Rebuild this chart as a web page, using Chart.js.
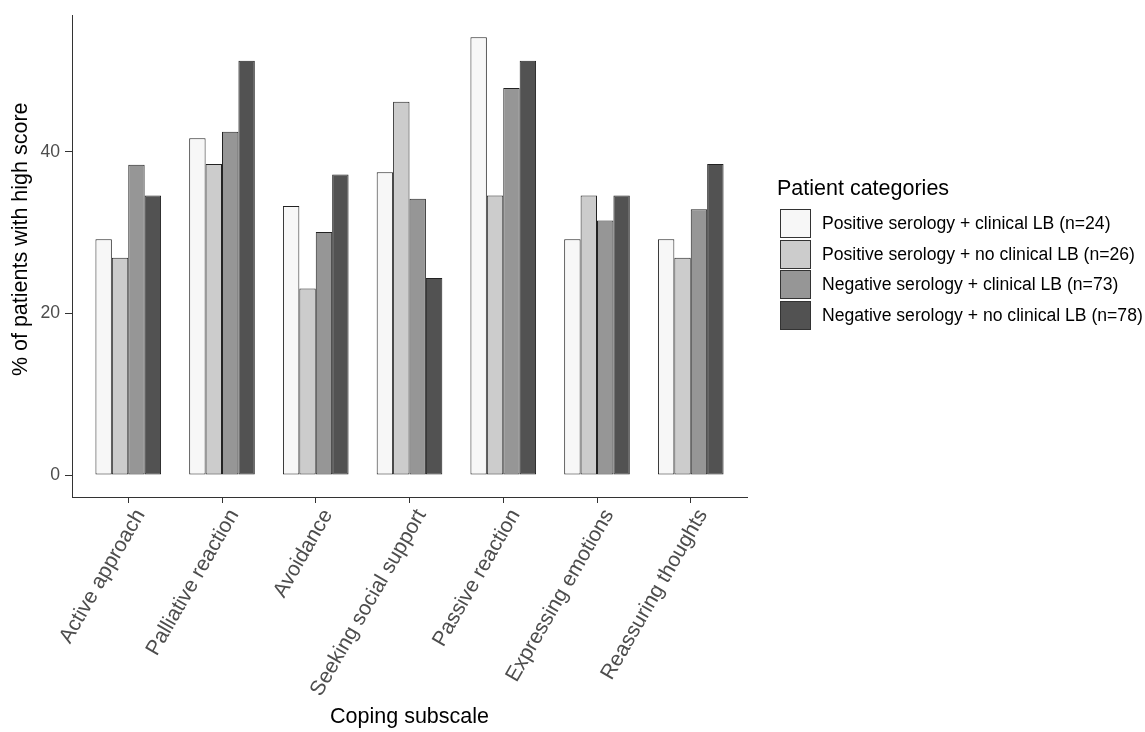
<!DOCTYPE html>
<html>
<head>
<meta charset="utf-8">
<script src="https://cdn.jsdelivr.net/npm/chart.js@4.4.0/dist/chart.umd.min.js"></script>
<style>
  body { margin: 0; background: #fff; font-family: "Liberation Sans", Arial, sans-serif; }
  #wrap { position: relative; width: 1145px; height: 732px; }
  #legend-title { position: absolute; left: 777px; top: 176px; font-size: 21.5px; line-height: 24px; color: #000; white-space: nowrap; }
  .key { position: absolute; left: 780px; width: 29px; height: 27px; border: 1px solid #333; }
  .key-label { position: absolute; left: 822px; font-size: 17.6px; line-height: 29px; color: #000; white-space: nowrap; }
</style>
</head>
<body>
<div id="wrap">
  <canvas id="coping-chart" width="1145" height="732"></canvas>
  <div id="legend-title">Patient categories</div>
</div>
<script>
// coping subscales on the x axis
const categories = ['Active approach', 'Palliative reaction', 'Avoidance', 'Seeking social support',
  'Passive reaction', 'Expressing emotions', 'Reassuring thoughts'];

// % of patients with high score, one array per patient group
const posSeroClinical = [29.2, 41.7, 33.3, 37.5, 54.2, 29.2, 29.2];
const posSeroNoClinical = [26.9, 38.5, 23.1, 46.2, 34.6, 34.6, 26.9];
const negSeroClinical = [38.4, 42.5, 30.1, 34.2, 47.9, 31.5, 32.9];
const negSeroNoClinical = [34.6, 51.3, 37.2, 24.4, 51.3, 34.6, 38.5];

const groupLabels = ['Positive serology + clinical LB (n=24)', 'Positive serology + no clinical LB (n=26)',
  'Negative serology + clinical LB (n=73)', 'Negative serology + no clinical LB (n=78)'];
const groupColors = ['#F7F7F7', '#CCCCCC', '#969696', '#525252'];

const yTicks = [0, 20, 40];
const yTitle = '% of patients with high score';

const seriesList = [posSeroClinical, posSeroNoClinical, negSeroClinical, negSeroNoClinical];

const datasets = seriesList.map((values, i) => ({
  label: groupLabels[i],
  data: values.map((v, j) => ({ x: j + 1, y: v })),
  backgroundColor: groupColors[i],
  borderColor: '#222',
  borderWidth: 1,
  borderSkipped: false,
  categoryPercentage: 0.7,
  barPercentage: 1.0,
}));

// legend (drawn as html, to the right of the panel)
const wrap = document.getElementById('wrap');
groupLabels.forEach((label, i) => {
  const top = 209 + i * 30.7;
  const key = document.createElement('div');
  key.className = 'key';
  key.style.top = top + 'px';
  key.style.background = groupColors[i];
  wrap.appendChild(key);
  const txt = document.createElement('div');
  txt.className = 'key-label';
  txt.style.top = top + 'px';
  txt.textContent = label;
  wrap.appendChild(txt);
});

const tickColor = '#4D4D4D';
const axisColor = '#333333';

// y title drawn by hand: it sits a bit above the panel's middle in the original
const yTitlePlugin = {
  id: 'yTitle',
  afterDraw(chart) {
    const { ctx, chartArea } = chart;
    ctx.save();
    ctx.translate(21, (chartArea.top + chartArea.bottom) / 2 - 17);
    ctx.rotate(-Math.PI / 2);
    ctx.font = '21.5px "Liberation Sans"';
    ctx.fillStyle = '#000';
    ctx.textAlign = 'center';
    ctx.textBaseline = 'middle';
    ctx.fillText(yTitle, 0, 0);
    ctx.restore();
  },
};

new Chart(document.getElementById('coping-chart'), {
  type: 'bar',
  data: { datasets: datasets },
  plugins: [yTitlePlugin],
  options: {
    responsive: false,
    animation: false,
    layout: { padding: { left: 0, right: 398, top: 10, bottom: 0 } },
    plugins: { legend: { display: false }, tooltip: { enabled: false } },
    scales: {
      x: {
        type: 'linear',
        min: 0.4,
        max: 7.6,
        offset: false,
        afterBuildTicks: (scale) => { scale.ticks = categories.map((c, i) => ({ value: i + 1 })); },
        afterFit: (scale) => { scale.height = 235; },
        grid: { drawOnChartArea: false, offset: false, tickLength: 6, color: axisColor },
        border: { color: axisColor, width: 1 },
        ticks: {
          autoSkip: false,
          minRotation: 60,
          maxRotation: 60,
          padding: 2,
          labelOffset: 12,
          color: tickColor,
          font: { family: 'Liberation Sans', size: 21 },
          callback: (v) => categories[v - 1],
        },
        title: {
          display: true,
          text: 'Coping subscale',
          color: '#000',
          font: { family: 'Liberation Sans', size: 21.5 },
          padding: { top: 0, bottom: 2 },
        },
      },
      y: {
        min: -2.71,
        max: 56.88,
        afterBuildTicks: (scale) => { scale.ticks = yTicks.map(v => ({ value: v })); },
        afterFit: (scale) => { scale.width = 72; },
        grid: { drawOnChartArea: false, tickLength: 7, color: axisColor },
        border: { color: axisColor, width: 1 },
        ticks: {
          padding: 5,
          color: tickColor,
          font: { family: 'Liberation Sans', size: 17.6 },
        },
      },
    },
  },
});
</script>
</body>
</html>
